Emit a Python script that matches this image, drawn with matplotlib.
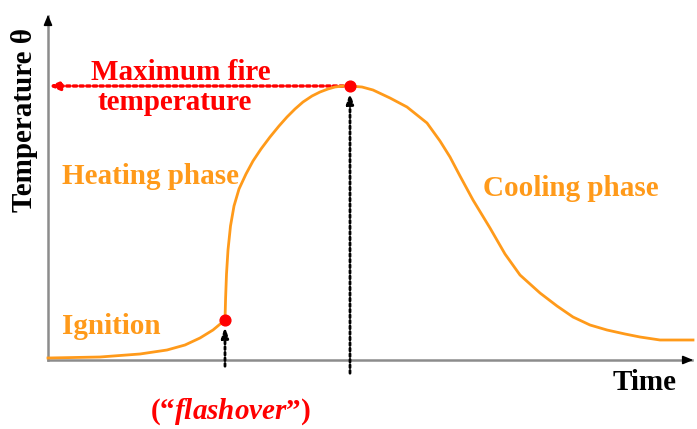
import numpy as np
import matplotlib
matplotlib.use('Agg')
from matplotlib import pyplot as plt

plt.rcParams['mathtext.fontset'] = 'custom'
plt.rcParams['mathtext.it'] = 'Liberation Serif:italic:bold'

# fire curve, time vs temperature (arbitrary units)
time = [0, 52, 92, 119, 137, 152, 165, 177, 177.6, 178.5, 180, 182.5, 186,
        191, 198, 205, 213, 222, 231, 239, 247, 255, 264, 272, 280, 287, 295,
        302, 314, 325, 342, 359, 379, 392, 402, 412, 425, 442, 457, 472, 492,
        509, 525, 542, 559, 577, 592, 612, 645]
temp = [2, 3, 6, 10, 15, 22, 30, 40, 62, 86, 110, 134, 154,
        171, 186, 199, 211, 223, 234, 243, 251, 258, 264, 268, 271, 273, 274,
        274, 273, 270, 262, 253, 237, 219, 203,
        184, 160, 132, 106, 85, 67, 54, 43, 35, 30, 26, 23, 20, 20]
flashover = (177, 40)
peak = (302, 274)
x_max = 648
y_max = 348

ORANGE = '#FF9A1A'
RED = '#FF0000'
serif = 'Liberation Serif'
FS = 21

fig = plt.figure(figsize=(6.97, 4.29), dpi=100)
ax = fig.add_axes([0, 0, 1, 1])
ax.set_xlim(-48, 649)
ax.set_ylim(-69, 360)
ax.axis('off')

# axes with arrow heads
ax.plot([0, 0], [0, y_max - 4], color='#8c8c8c', lw=1.8, zorder=1)
ax.plot([0, x_max - 4], [0, 0], color='#8c8c8c', lw=1.8, zorder=1)
ax.annotate('', xy=(0, y_max), xytext=(0, y_max - 15),
            arrowprops=dict(arrowstyle='-|>,head_length=0.6,head_width=0.25', color='black', lw=1.2))
ax.annotate('', xy=(x_max, 0), xytext=(x_max - 15, 0),
            arrowprops=dict(arrowstyle='-|>,head_length=0.6,head_width=0.25', color='black', lw=1.2))

# curve
ax.plot(time, temp, color=ORANGE, lw=2, zorder=3)

# dotted guide arrows
ax.annotate('', xy=(flashover[0], flashover[1] - 4), xytext=(flashover[0], -9),
            arrowprops=dict(arrowstyle='-|>,head_length=0.6,head_width=0.2', color='black',
                            lw=2, linestyle=(0, (1, 1))), zorder=2)
ax.annotate('', xy=(peak[0], peak[1] - 4), xytext=(peak[0], -16),
            arrowprops=dict(arrowstyle='-|>,head_length=0.6,head_width=0.2', color='black',
                            lw=2, linestyle=(0, (1, 1))), zorder=2)
ax.annotate('', xy=(1, peak[1]), xytext=(peak[0], peak[1]),
            arrowprops=dict(arrowstyle='-|>,head_length=0.6,head_width=0.25', color=RED,
                            lw=2.4, linestyle=(0, (1, 1)), shrinkA=0, shrinkB=0), zorder=2)

ax.scatter([flashover[0], peak[0]], [flashover[1], peak[1]], s=60, color=RED, zorder=5)

# labels
ax.text(133, 288, 'Maximum fire', color=RED, fontsize=FS, fontweight='bold',
        family=serif, ha='center', va='center')
ax.text(127, 257, 'temperature', color=RED, fontsize=FS, fontweight='bold',
        family=serif, ha='center', va='center')
ax.text(14, 183, 'Heating phase', color=ORANGE, fontsize=FS, fontweight='bold',
        family=serif, ha='left', va='center')
ax.text(435, 172, 'Cooling phase', color=ORANGE, fontsize=FS, fontweight='bold',
        family=serif, ha='left', va='center')
ax.text(14, 33, 'Ignition', color=ORANGE, fontsize=FS, fontweight='bold',
        family=serif, ha='left', va='center')
ax.text(182, -52, '(\u201c$\\it{flashover}$\u201d)', color=RED, fontsize=FS,
        fontweight='bold', family=serif, ha='center', va='center')
ax.text(597, -23, 'Time', color='black', fontsize=FS, fontweight='bold',
        family=serif, ha='center', va='center')
ax.text(-23, 240, 'Temperature \u03b8', color='black', fontsize=FS, fontweight='bold',
        family=serif, ha='center', va='center', rotation=90)

fig.savefig('out.png', dpi=100)
